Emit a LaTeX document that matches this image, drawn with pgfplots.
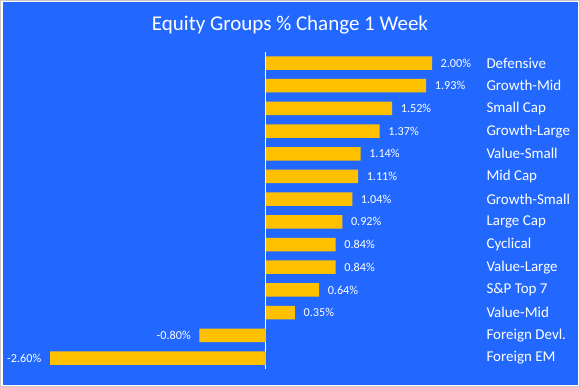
\documentclass[border=0pt]{standalone}
\usepackage{pgfplots}
\pgfplotsset{compat=1.18}
\usepackage{fontspec}
\setmainfont{Carlito}
\definecolor{bgblue}{RGB}{34,104,255}
\definecolor{baryel}{RGB}{255,192,0}
\definecolor{frame}{RGB}{200,200,200}
\begin{document}
\begin{tikzpicture}
\useasboundingbox (0,0) rectangle (580bp,-387bp);
\fill[white] (0,0) rectangle (580bp,-387bp);
\fill[bgblue] (2.5bp,-2bp) rectangle (577.5bp,-384.5bp);
\draw[frame, line width=1bp] (0.5bp,-0.5bp) rectangle (579.5bp,-386.5bp);
\node[anchor=base, text=white, font=\fontsize{21bp}{24bp}\selectfont] at (290bp,-30.7bp) {Equity Groups \% Change 1 Week};
\begin{axis}[
  at={(50bp,-369.35bp)}, anchor=south west,
  scale only axis, width=382bp, height=317.7bp,
  xmin=-2.6, xmax=2.0, ymin=-0.5, ymax=13.5,
  y dir=reverse,
  xbar, bar width=13.5bp,
  axis line style={draw=none},
  major tick length=0pt,
  xtick={0}, xticklabels={},
  xmajorgrids, grid style={white, line width=0.9bp},
  ytick={0,...,13},
  yticklabels={Defensive,Growth-Mid,Small Cap,Growth-Large,Value-Small,Mid Cap,Growth-Small,Large Cap,Cyclical,Value-Large,S\&P Top 7,Value-Mid,Foreign Devl.,Foreign EM},
  yticklabel pos=right,
  yticklabel style={anchor=west, xshift=51bp, text=white, font=\fontsize{15bp}{17bp}\selectfont},
  clip=false,
  /pgf/number format/assume math mode=true,
  point meta=x,
  nodes near coords={\pgfmathprintnumber[fixed,fixed zerofill,precision=2]{\pgfplotspointmeta}\%},
  nodes near coords align=horizontal,
  every node near coord/.append style={text=white, inner sep=0pt, xshift=0pt, font=\fontsize{12.2bp}{14bp}\selectfont},
]
\addplot[fill=baryel, draw=none,
  visualization depends on={x \as \rawx},
  every node near coord/.append style={xshift={ifthenelse(\rawx<0,-8.5,8.5)*1bp}}
] coordinates {
(2.00,0) (1.93,1) (1.52,2) (1.37,3) (1.14,4) (1.11,5) (1.04,6) (0.92,7) (0.84,8) (0.84,9) (0.64,10) (0.35,11) (-0.80,12) (-2.60,13)
};
\end{axis}
\end{tikzpicture}
\end{document}
